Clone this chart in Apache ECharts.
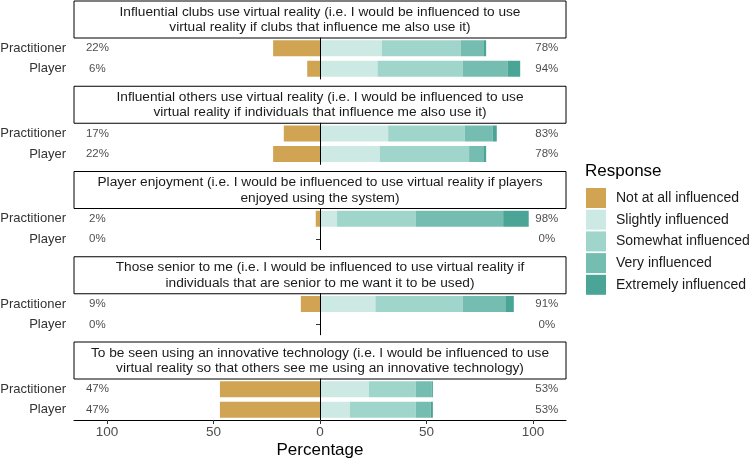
<!DOCTYPE html>
<html><head><meta charset="utf-8">
<script src="https://cdn.jsdelivr.net/npm/echarts@6/dist/echarts.min.js"></script>
<style>html,body{margin:0;padding:0;background:#fff}#c{width:750px;height:458px}</style>
</head><body><div id="c"></div>
<script>
// ---------- data ----------
const facetTitles = [
  'Influential clubs use virtual reality (i.e. I would be influenced to use\nvirtual reality if clubs that influence me also use it)',
  'Influential others use virtual reality (i.e. I would be influenced to use\nvirtual reality if individuals that influence me also use it)',
  'Player enjoyment (i.e. I would be influenced to use virtual reality if players\nenjoyed using the system)',
  'Those senior to me (i.e. I would be influenced to use virtual reality if\nindividuals that are senior to me want it to be used)',
  'To be seen using an innovative technology (i.e. I would be influenced to use\nvirtual reality so that others see me using an innovative technology)'
];
const groups = ['Practitioner', 'Player'];
const responses = ['Not at all influenced', 'Slightly influenced', 'Somewhat influenced', 'Very influenced', 'Extremely influenced'];
// each entry: [Practitioner, Player]
const notAtAll   = [[22, 6], [17, 22], [2, 0], [9, 0], [47, 47]];
const slightly   = [[29, 27], [32, 28], [8, 0], [26, 0], [23, 14]];
const somewhat   = [[37, 40], [36, 42], [37, 0], [41, 0], [22, 31]];
const very       = [[11, 21], [13, 7], [41, 0], [20, 0], [7.5, 7]];
const extremely  = [[1, 6], [2, 1], [12, 0], [4, 0], [0.5, 1]];
const xTicks = [-100, -50, 0, 50, 100];
const xMin = -115.5, xMax = 115.5;
const lowLabelX = -104.5, highLabelX = 106.5;

// ---------- style / layout ----------
const colors = ['#D0A453', '#CDE9E4', '#A0D5CC', '#75BCB1', '#4BA597'];
const FONT = "'Liberation Sans', Arial, sans-serif";
const L = 74, R = 566, W = R - L;
const top0 = 1, pitch = 85.25, stripH = 37, panelH = 41;

const valueSets = [notAtAll, slightly, somewhat, very, extremely];
const yCats = groups.slice().reverse(); // bottom-to-top order for echarts

const grids = [], xAxes = [], yAxes = [], series = [], graphics = [];
facetTitles.forEach((title, f) => {
  const st = top0 + pitch * f;
  const gTop = st + stripH;
  grids.push({left: L, top: gTop, width: W, height: panelH, containLabel: false, outerBoundsMode: 'none'});
  const last = f === facetTitles.length - 1;
  xAxes.push({
    gridIndex: f, type: 'value', min: xMin, max: xMax, show: last,
    splitLine: {show: false},
    axisLine: {show: last, onZero: false, lineStyle: {color: '#000', width: 1}},
    axisTick: {show: last, length: 4, customValues: xTicks, lineStyle: {color: '#333'}},
    axisLabel: {show: last, customValues: xTicks, formatter: v => String(Math.abs(v)), fontSize: 13.5, color: '#4d4d4d', margin: 5, fontFamily: FONT},
    name: last ? 'Percentage' : '', nameLocation: 'middle', nameGap: 22,
    nameTextStyle: {fontSize: 17, color: '#000', fontFamily: FONT}
  });
  yAxes.push({
    gridIndex: f, type: 'category', data: yCats,
    axisLine: {show: true, lineStyle: {color: '#000', width: 1}},
    axisTick: {show: true, length: 4, alignWithLabel: true, lineStyle: {color: '#333'}},
    axisLabel: {fontSize: 13, color: '#333', margin: 8, fontFamily: FONT},
    splitLine: {show: false}
  });
  valueSets.forEach((vals, r) => {
    const d = yCats.map(g => {
      const v = vals[f][groups.indexOf(g)];
      return r === 0 ? -v : v;
    });
    const s = {
      type: 'bar', name: responses[r], xAxisIndex: f, yAxisIndex: f, stack: 'facet' + f,
      barWidth: 16, data: d, itemStyle: {color: colors[r]}, emphasis: {disabled: true}, silent: true
    };
    if (r === 0) {
      s.markLine = {silent: true, symbol: 'none', label: {show: false},
        lineStyle: {color: '#000', width: 1, type: 'solid'}, emphasis: {disabled: true},
        data: [{xAxis: 0}]};
    }
    series.push(s);
  });
  // percent labels
  const labData = [];
  yCats.forEach(g => {
    const gi = groups.indexOf(g);
    const low = notAtAll[f][gi];
    const high = slightly[f][gi] + somewhat[f][gi] + very[f][gi] + extremely[f][gi];
    labData.push([lowLabelX, g, Math.round(low) + '%']);
    labData.push([highLabelX, g, Math.round(high) + '%']);
  });
  series.push({
    type: 'scatter', xAxisIndex: f, yAxisIndex: f, symbolSize: 1, silent: true,
    itemStyle: {color: 'rgba(0,0,0,0)'}, data: labData,
    label: {show: true, position: 'inside', formatter: p => p.value[2], fontSize: 11.5, color: '#1a1a1a', fontFamily: FONT}
  });
  // strip box
  graphics.push({
    type: 'rect', shape: {x: L, y: st, width: W, height: stripH}, silent: true,
    style: {fill: '#fff', stroke: '#000', lineWidth: 1}
  });
  graphics.push({
    type: 'text', x: L + W / 2, y: st + stripH / 2, silent: true,
    style: {text: title, fontSize: 13.7, lineHeight: 15.5, fill: '#1a1a1a', align: 'center', verticalAlign: 'middle', fontFamily: FONT}
  });
});
graphics.push({
  type: 'text', x: 585, y: 171, silent: true,
  style: {text: 'Response', fontSize: 17, fill: '#000', align: 'left', verticalAlign: 'middle', fontFamily: FONT}
});

const chart = echarts.init(document.getElementById('c'), null, {renderer: 'canvas'});
chart.setOption({
  animation: false,
  backgroundColor: '#fff',
  grid: grids, xAxis: xAxes, yAxis: yAxes, series: series,
  legend: {
    data: responses, orient: 'vertical', left: 586, top: 188, padding: 0,
    itemWidth: 20, itemHeight: 20, itemGap: 1.7, icon: 'rect',
    selectedMode: false,
    textStyle: {fontSize: 14, color: '#1a1a1a', fontFamily: FONT, padding: [0, 0, 0, 5]}
  },
  graphic: graphics
});
</script></body></html>
